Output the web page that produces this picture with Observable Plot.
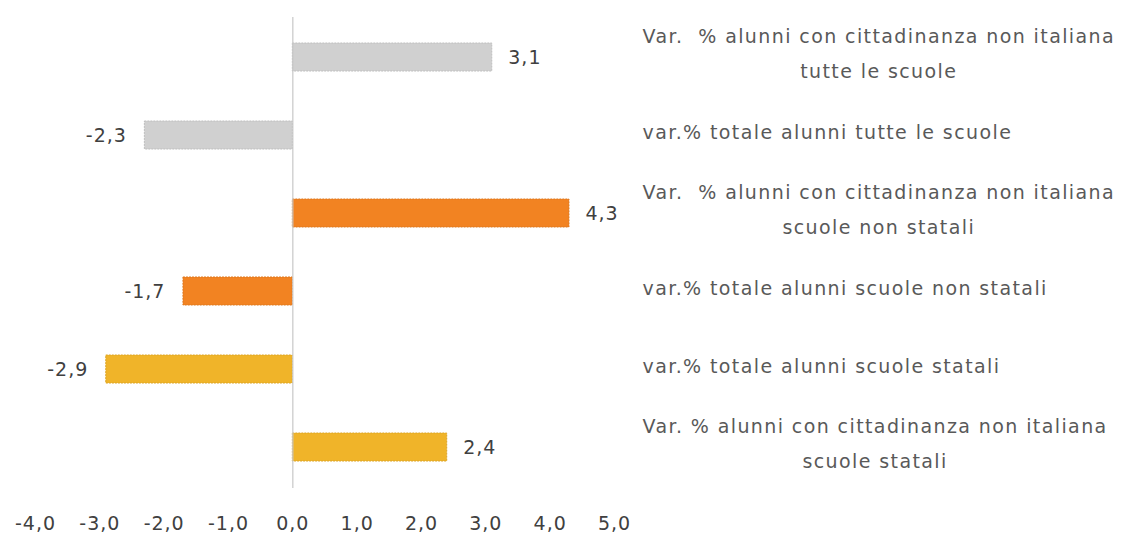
<!DOCTYPE html>
<html>
<head>
<meta charset="utf-8">
<script src="https://cdn.jsdelivr.net/npm/d3@7"></script>
<script src="https://cdn.jsdelivr.net/npm/@observablehq/plot@0.6"></script>
<style>
  html, body { margin: 0; padding: 0; background: #ffffff; }
  #chart svg { display: block; }
</style>
</head>
<body>
<div id="chart"></div>
<script>
const categories = [
  "Var.  % alunni con cittadinanza non italiana\ntutte le scuole",
  "var.% totale alunni tutte le scuole",
  "Var.  % alunni con cittadinanza non italiana\nscuole non statali",
  "var.% totale alunni scuole non statali",
  "var.% totale alunni scuole statali",
  "Var. % alunni con cittadinanza non italiana\nscuole statali"
];
const values = [3.1, -2.3, 4.3, -1.7, -2.9, 2.4];
const groups = ["tutte", "tutte", "non statali", "non statali", "statali", "statali"];
const groupColors = { "tutte": "#d0d0d0", "non statali": "#f28322", "statali": "#f0b429" };
const xTicks = [-4, -3, -2, -1, 0, 1, 2, 3, 4, 5];

const data = categories.map((c, i) => ({ category: c, value: values[i], group: groups[i] }));
const fmt = v => d3.format(".1f")(v).replace(".", ",").replace("−", "-");
const FONT = "'DejaVu Sans', sans-serif";

const chart = Plot.plot({
  width: 1130,
  height: 536,
  marginLeft: 35,
  marginRight: 516,
  marginTop: 17,
  marginBottom: 48,
  style: { fontFamily: FONT, background: "#ffffff" },
  x: { domain: [-4, 5], ticks: xTicks, tickFormat: fmt },
  y: { domain: categories, paddingInner: 0.64, paddingOuter: 0.32, axis: null },
  marks: [
    Plot.barX(data, {
      x: "value", y: "category",
      fill: d => groupColors[d.group],
      stroke: d => d3.color(groupColors[d.group]).darker(0.25).formatHex(),
      strokeWidth: 1, strokeDasharray: "2,1"
    }),
    Plot.ruleX([0], { stroke: "#c8c8c8", strokeWidth: 1.2 }),
    Plot.axisX({ ticks: xTicks, tickFormat: fmt, tickSize: 0, tickPadding: 28, fontSize: 19, fill: "#404040", label: null }),
    Plot.text(data.filter(d => d.value >= 0), {
      x: "value", y: "category", text: d => fmt(d.value),
      textAnchor: "start", dx: 16, fontSize: 19, fill: "#404040"
    }),
    Plot.text(data.filter(d => d.value < 0), {
      x: "value", y: "category", text: d => fmt(d.value),
      textAnchor: "end", dx: -18, fontSize: 19, fill: "#404040"
    }),
    Plot.text(data, {
      y: "category", text: "category", frameAnchor: "right",
      textAnchor: "start", dx: 28, dy: -8, fontSize: 19, lineHeight: 1.85, fill: "#595959"
    })
  ]
});

document.getElementById("chart").appendChild(chart);

const root = d3.select(chart);
// wider letter spacing, as in the original rendering
root.selectAll("text").each(function() {
  const t = this.textContent;
  if (/^[vV]ar/.test(t)) this.style.letterSpacing = "1.4px";
  else this.style.letterSpacing = "1px";
});
// center the second line of wrapped labels under the first line
root.selectAll("text").each(function() {
  const spans = this.querySelectorAll("tspan");
  if (spans.length > 1) {
    const w0 = spans[0].getComputedTextLength();
    for (let i = 1; i < spans.length; i++) {
      const w = spans[i].getComputedTextLength();
      spans[i].setAttribute("x", (w0 - w) / 2);
    }
  }
});
</script>
</body>
</html>
